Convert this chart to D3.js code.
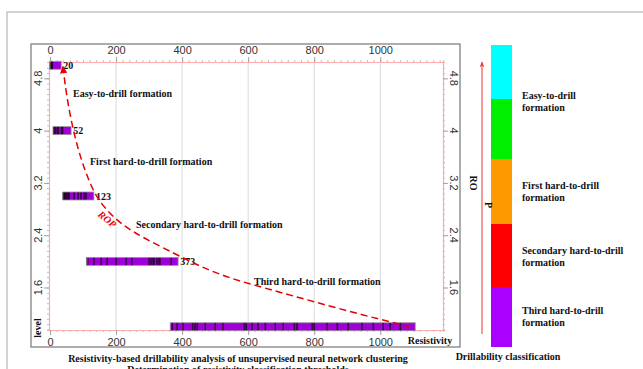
<!DOCTYPE html>
<html>
<head>
<meta charset="utf-8">
<script src="https://cdn.jsdelivr.net/npm/d3@7.9.0/dist/d3.min.js"></script>
<style>
  body { margin: 0; background: #fff; }
  svg { display: block; }
  .serif { font-family: "Liberation Serif", "Times New Roman", serif; font-weight: bold; }
  .tick text { font-family: "Liberation Sans", Arial, sans-serif; }
</style>
</head>
<body>
<svg id="chart" width="643" height="369"></svg>
<script>
// cluster bars: one strip per level
const levels = [1, 2, 3, 4, 5];
const resMin = [364, 112, 39, 9, 0];
const resMax = [1106, 388, 133, 64, 34];
const thresholds = [null, 373, 123, 52, 20];
const darkStripes = [
  [370, 385, 403, 432, 439, 446, 470, 500, 524, 588, 594, 612, 630, 652, 682, 706, 740, 748, 794, 800, 839, 870, 903, 945, 979, 1009, 1030, 1061],
  [112, 114, 133, 155, 173, 200, 230, 248, 300, 306, 312, 315, 324, 330, 333, 367],
  [40, 43, 46, 49, 52, 55, 58, 73, 85, 94, 103, 109],
  [12, 16, 22, 25, 35, 38],
  [1, 3, 5, 7]
];

// ROP trend line
const ropRes = [39, 51, 70, 97, 136, 176, 218, 282, 385, 455, 545, 645, 758, 960, 1091];
const ropLevel = [4.98, 4.5, 4.0, 3.5, 3.0, 2.76, 2.56, 2.36, 2.10, 1.92, 1.74, 1.60, 1.44, 1.16, 1.0];

const xMajor = [0, 200, 400, 600, 800, 1000];
const yMajor = [1.6, 2.4, 3.2, 4, 4.8];

const zoneNames = ['Easy-to-drill formation', 'First hard-to-drill formation',
  'Secondary hard-to-drill formation', 'Third hard-to-drill formation'];
const zonePos = [[73, 96.5], [90, 164.5], [136, 227.5], [254, 284.5]];

// right panel classification
const classLines = [
  ['Easy-to-drill', 'formation'],
  ['First hard-to-drill', 'formation'],
  ['Secondary hard-to-drill', 'formation'],
  ['Third hard-to-drill', 'formation']
];
const classColors = ['#00ffff', '#00ee00', '#ff9900', '#ff0000', '#aa00ff'];
const classEdges = [45, 99, 159, 224, 287, 347];
const classLabelY = [98.5, 188.5, 253.5, 313.5];

const svg = d3.select('#chart');

// frames
svg.append('path').attr('d', 'M7,369 V12 H643')
  .attr('fill', 'none').attr('stroke', '#c4c4c4').attr('stroke-width', 1.5);
svg.append('rect').attr('x', 31).attr('y', 44).attr('width', 429).attr('height', 303)
  .attr('fill', 'none').attr('stroke', '#777').attr('stroke-width', 1.2);

const x = d3.scaleLinear().domain([0, 1190]).range([50, 443]);
const y = d3.scaleLinear().domain([0.95, 5.05]).range([330, 62]);

// grid
svg.append('g').selectAll('line').data(xMajor.slice(1)).join('line')
  .attr('x1', d => x(d)).attr('x2', d => x(d)).attr('y1', 62).attr('y2', 330)
  .attr('stroke', '#dcdcdc').attr('stroke-width', 1);

function styleAxis(g, tickColor) {
  g.select('.domain').attr('stroke', '#ffaaaa').attr('stroke-width', 1.2);
  g.selectAll('.tick line').attr('stroke', tickColor || '#a0a0a0');
  g.selectAll('.tick text').attr('fill', '#333').attr('font-size', 11);
}

const xMinor = d3.range(0, 1191, 20);
const yMinor = d3.range(12, 63).map(d => d * 0.08);

// x axes (top and bottom)
[['top', 62, d3.axisTop], ['bottom', 330, d3.axisBottom]].forEach(([side, pos, ax]) => {
  svg.append('g').attr('transform', `translate(0,${pos})`)
    .call(ax(x).tickValues(xMinor).tickSize(2).tickFormat(''))
    .call(g => styleAxis(g, '#c0c0c0'));
  svg.append('g').attr('transform', `translate(0,${pos})`)
    .call(ax(x).tickValues(xMajor).tickSize(5).tickPadding(3).tickFormat(d3.format('d')))
    .call(g => styleAxis(g))
    .call(g => g.select('.domain').remove());
});

// y axes (left and right)
[['left', 49, d3.axisLeft], ['right', 443, d3.axisRight]].forEach(([side, pos, ax]) => {
  svg.append('g').attr('transform', `translate(${pos},0)`)
    .call(ax(y).tickValues(yMinor).tickSize(2).tickFormat(''))
    .call(g => styleAxis(g, '#c0c0c0'));
  svg.append('g').attr('transform', `translate(${pos},0)`)
    .call(ax(y).tickValues(yMajor).tickSize(5).tickFormat(''))
    .call(g => styleAxis(g))
    .call(g => g.select('.domain').remove());
  svg.append('g').selectAll('text').data(yMajor).join('text')
    .attr('transform', d => side === 'left'
      ? `translate(42,${y(d)}) rotate(-90)`
      : `translate(450,${y(d)}) rotate(90)`)
    .attr('text-anchor', 'middle')
    .attr('font-family', '"Liberation Sans", Arial, sans-serif')
    .attr('font-size', 11).attr('fill', '#333')
    .text(d => d3.format('')(d));
});

// cluster strips
const barH = 8;
const bars = svg.append('g');
levels.forEach((lv, i) => {
  const g = bars.append('g');
  g.append('rect')
    .attr('x', x(resMin[i])).attr('y', y(lv) - barH / 2)
    .attr('width', x(resMax[i]) - x(resMin[i])).attr('height', barH)
    .attr('fill', '#a000d8');
  g.selectAll('rect.s').data(darkStripes[i]).join('rect').attr('class', 's')
    .attr('x', d => x(d) - 0.8).attr('y', y(lv) - barH / 2)
    .attr('width', 1.6).attr('height', barH)
    .attr('fill', '#1a0020').attr('opacity', 0.8);
  g.append('rect')
    .attr('x', x(resMin[i])).attr('y', y(lv) - barH / 2)
    .attr('width', x(resMax[i]) - x(resMin[i])).attr('height', barH)
    .attr('fill', 'none').attr('stroke', '#9a9a9a').attr('stroke-width', 0.8);
  if (thresholds[i] !== null) {
    bars.append('text').attr('class', 'serif')
      .attr('x', x(resMax[i]) + 2).attr('y', y(lv) + 3.5)
      .attr('font-size', 10).attr('fill', '#111')
      .text(thresholds[i]);
  }
});

// ROP curve
svg.append('defs').append('marker')
  .attr('id', 'head').attr('viewBox', '0 0 10 10')
  .attr('refX', 9).attr('refY', 5).attr('markerWidth', 5).attr('markerHeight', 5)
  .attr('orient', 'auto-start-reverse')
  .append('path').attr('d', 'M0,0 L10,5 L0,10 Z').attr('fill', '#e60000');

const line = d3.line().x(d => x(d[0])).y(d => y(d[1])).curve(d3.curveBasis);
svg.append('path')
  .datum(ropRes.map((r, i) => [r, ropLevel[i]]))
  .attr('d', line)
  .attr('fill', 'none').attr('stroke', '#e60000').attr('stroke-width', 1.5)
  .attr('stroke-dasharray', '7,4')
  .attr('marker-start', 'url(#head)');

svg.append('text').attr('class', 'serif')
  .attr('transform', 'translate(105,222) rotate(40)')
  .attr('text-anchor', 'middle').attr('font-size', 10).attr('font-style', 'italic')
  .attr('fill', '#e60000').text('ROP');

// zone annotations
svg.append('g').selectAll('text').data(zoneNames).join('text').attr('class', 'serif')
  .attr('x', (d, i) => zonePos[i][0]).attr('y', (d, i) => zonePos[i][1])
  .attr('font-size', 10).attr('fill', '#111').text(d => d);

// axis names
svg.append('text').attr('class', 'serif')
  .attr('transform', 'translate(41,328) rotate(-90)')
  .attr('text-anchor', 'middle').attr('font-size', 10).attr('fill', '#111').text('level');
svg.append('text').attr('class', 'serif')
  .attr('x', 430).attr('y', 343.5).attr('text-anchor', 'middle')
  .attr('font-size', 10).attr('fill', '#111').text('Resistivity');

svg.append('text').attr('class', 'serif')
  .attr('x', 238).attr('y', 361.5).attr('text-anchor', 'middle')
  .attr('font-size', 10).attr('fill', '#111')
  .text('Resistivity-based drillability analysis of unsupervised neural network clustering');
svg.append('text').attr('class', 'serif')
  .attr('x', 238).attr('y', 373).attr('text-anchor', 'middle')
  .attr('font-size', 10).attr('fill', '#111')
  .text('Determination of resistivity classification thresholds');

// right panel: colour bar
svg.append('g').selectAll('rect').data(classColors).join('rect')
  .attr('x', 491).attr('width', 21)
  .attr('y', (d, i) => classEdges[i]).attr('height', (d, i) => classEdges[i + 1] - classEdges[i])
  .attr('fill', d => d);

classLines.forEach((lines, i) => {
  svg.append('text').attr('class', 'serif')
    .attr('x', 522).attr('y', classLabelY[i])
    .attr('font-size', 10).attr('fill', '#111')
    .selectAll('tspan').data(lines).join('tspan')
    .attr('x', 522).attr('dy', (d, j) => j === 0 ? 0 : 12)
    .text(d => d);
});

svg.append('defs').append('marker')
  .attr('id', 'head2').attr('viewBox', '0 0 10 10')
  .attr('refX', 9).attr('refY', 5).attr('markerWidth', 6).attr('markerHeight', 6)
  .attr('orient', 'auto')
  .append('path').attr('d', 'M0,1 L10,5 L0,9 L3,5 Z').attr('fill', '#ee3333');
svg.append('line').attr('x1', 482).attr('x2', 482).attr('y1', 334).attr('y2', 62)
  .attr('stroke', '#ee3333').attr('stroke-width', 1)
  .attr('marker-end', 'url(#head2)');

svg.append('text').attr('class', 'serif')
  .attr('transform', 'translate(470,183) rotate(90)')
  .attr('text-anchor', 'middle').attr('font-size', 10).attr('fill', '#111').text('RO');
svg.append('text').attr('class', 'serif')
  .attr('transform', 'translate(485,205) rotate(90)')
  .attr('text-anchor', 'middle').attr('font-size', 10).attr('fill', '#111').text('P');

svg.append('text').attr('class', 'serif')
  .attr('x', 508).attr('y', 359.5).attr('text-anchor', 'middle')
  .attr('font-size', 10).attr('fill', '#111').text('Drillability classification');
</script>
</body>
</html>
